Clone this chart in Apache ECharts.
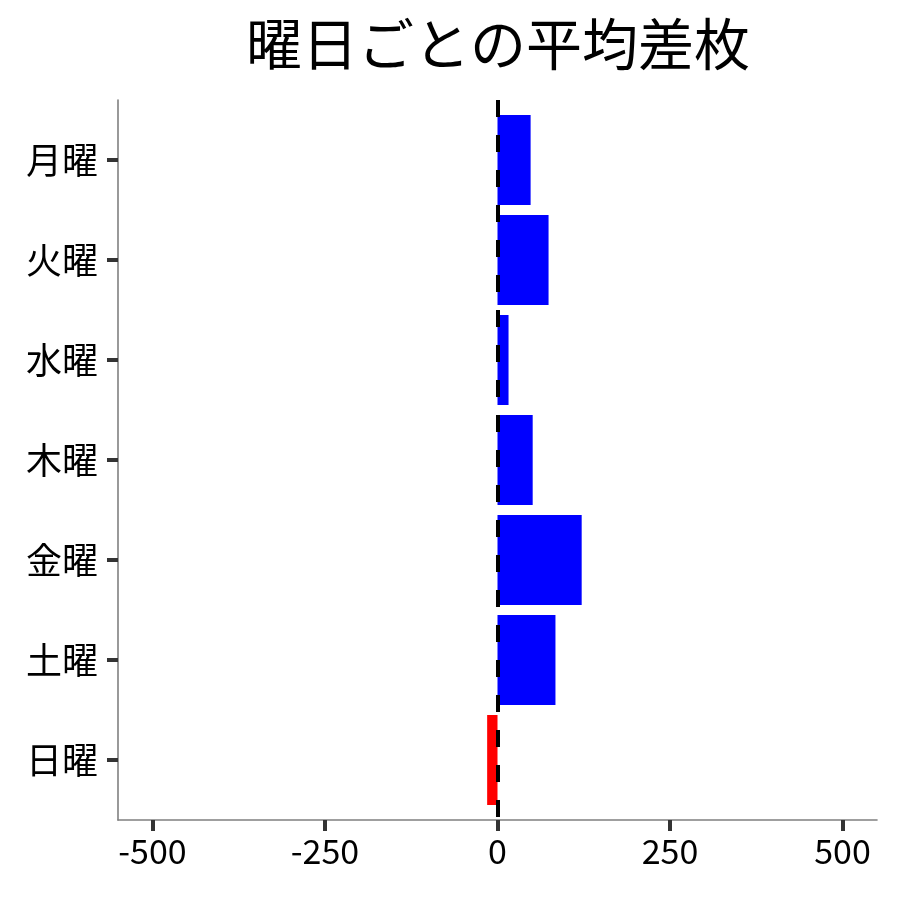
<!DOCTYPE html>
<html>
<head>
<meta charset="utf-8">
<script src="https://cdn.jsdelivr.net/npm/echarts@6/dist/echarts.min.js"></script>
<style>
  html, body { margin: 0; padding: 0; background: #fff; }
  #main { width: 900px; height: 900px; }
</style>
</head>
<body>
<div id="main"></div>
<script>
// 曜日ごとの平均差枚
var days = ['月曜', '火曜', '水曜', '木曜', '金曜', '土曜', '日曜'];
var diffs = [48, 74, 16, 51, 122, 84, -15];
var xTicks = [-500, -250, 0, 250, 500];

var FONT = '"Noto Sans CJK JP", "Noto Sans", sans-serif';

function buildData(vals) {
    var result = [];
    for (var i = 0; i < vals.length; i++) {
        result.push([vals[i], i + 1]);
    }
    return result;
}

function renderBar(params, api) {
    var v = api.value(0);
    var idx = api.value(1);
    var p0 = api.coord([0, idx]);
    var p1 = api.coord([v, idx]);
    var h = api.size([0, 0.9])[1];
    return {
        type: 'rect',
        shape: {
            x: Math.min(p0[0], p1[0]),
            y: p0[1] - h / 2,
            width: Math.abs(p1[0] - p0[0]),
            height: h
        },
        style: { fill: v < 0 ? '#FF0000' : '#0000FF' }
    };
}

var myChart = echarts.init(document.getElementById('main'));

var option = {
    backgroundColor: '#ffffff',
    animation: false,
    title: {
        text: '曜日ごとの平均差枚',
        left: 493,
        textAlign: 'center',
        top: 11,
        textStyle: { fontFamily: FONT, fontSize: 56, fontWeight: 'normal', color: '#000' }
    },
    grid: { left: 118, right: 23, top: 100, bottom: 80, containLabel: false },
    xAxis: {
        type: 'value',
        min: -550,
        max: 550,
        splitLine: { show: false },
        axisLine: { show: true, lineStyle: { color: '#808080', width: 1.6 } },
        axisTick: { show: true, length: 11, customValues: xTicks, lineStyle: { color: '#333', width: 4 } },
        axisLabel: {
            customValues: xTicks,
            margin: 14,
            fontFamily: FONT, fontSize: 34, color: '#000'
        }
    },
    yAxis: {
        type: 'value',
        min: 0.4,
        max: 7.6,
        inverse: true,
        splitLine: { show: false },
        axisLine: { show: true, onZero: false, lineStyle: { color: '#808080', width: 1.6 } },
        axisTick: { show: true, length: 11, customValues: [1, 2, 3, 4, 5, 6, 7], lineStyle: { color: '#333', width: 4 } },
        axisLabel: {
            customValues: [1, 2, 3, 4, 5, 6, 7],
            margin: 20,
            fontFamily: FONT, fontSize: 36, color: '#000',
            formatter: function (v) { return days[Math.round(v) - 1]; }
        }
    },
    series: [{
        type: 'custom',
        renderItem: renderBar,
        encode: { x: 0, y: 1 },
        data: buildData(diffs),
        markLine: {
            silent: true,
            symbol: ['none', 'none'],
            label: { show: false },
            lineStyle: { color: '#000', width: 4, type: [17, 18] },
            data: [{ xAxis: 0 }],
            z: 10
        }
    }]
};

myChart.setOption(option);
</script>
</body>
</html>
